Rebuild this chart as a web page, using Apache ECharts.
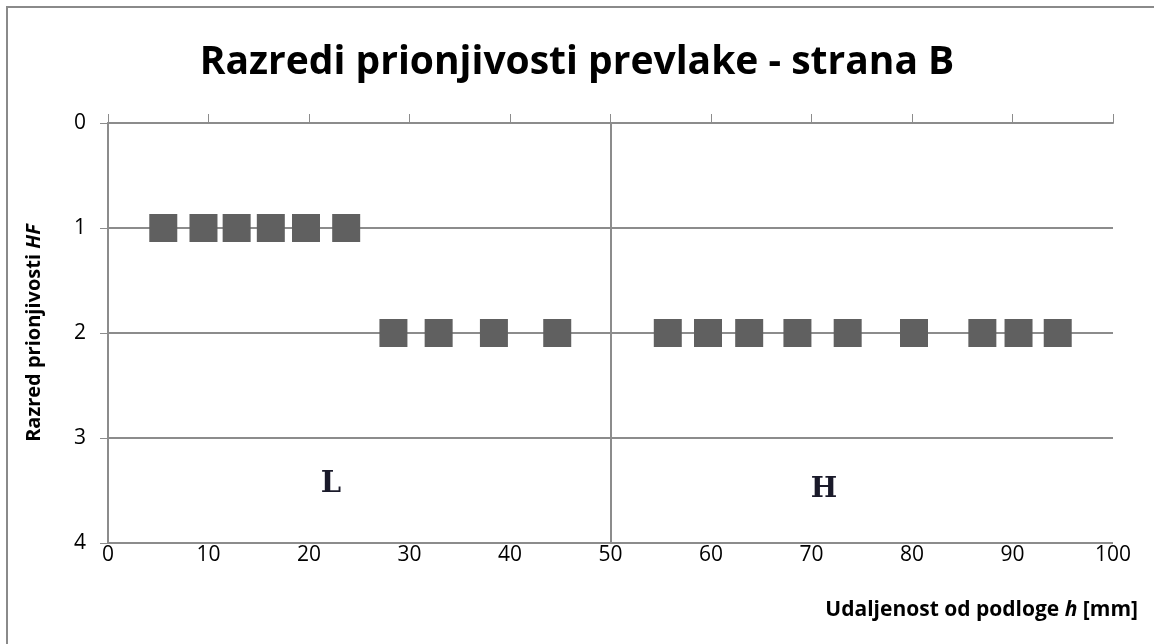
<!DOCTYPE html>
<html><head><meta charset="utf-8">
<script src="https://cdn.jsdelivr.net/npm/echarts@6/dist/echarts.min.js"></script>
<style>html,body{margin:0;padding:0;background:#fff}#c{width:1154px;height:644px}</style>
</head><body><div id="c"></div>
<script>
const titleText = 'Razredi prionjivosti prevlake - strana B';
const xTicks = [0,10,20,30,40,50,60,70,80,90,100];
const yTicks = [0,1,2,3,4];
const hValues = [5.5,9.5,12.8,16.2,19.7,23.7,28.4,32.9,38.4,44.7,55.7,59.7,63.8,68.6,73.6,80.2,87.0,90.6,94.5];
const hfValues = [1,1,1,1,1,1,2,2,2,2,2,2,2,2,2,2,2,2,2];
const zoneBoundary = 50;
const zoneLabels = ['L','H'];

const pts = hValues.map((v,i)=>[v,hfValues[i]]);
const font = '"Open Sans", sans-serif';
const grey = '#8c8c8c';
const chart = echarts.init(document.getElementById('c'));
chart.setOption({
  animation:false,
  backgroundColor:'#fff',
  title:{text:titleText,left:'center',top:38,textStyle:{fontFamily:font,fontWeight:'bold',fontSize:39,color:'#000'}},
  grid:{left:108,right:41,top:123,bottom:101},
  xAxis:[{
    type:'value',position:'top',min:xTicks[0],max:xTicks[xTicks.length-1],interval:10,
    axisLine:{show:true,lineStyle:{color:grey,width:2}},
    axisTick:{show:true,inside:false,length:9,lineStyle:{color:grey,width:1}},
    axisLabel:{show:false},splitLine:{show:false}
  },{
    type:'value',position:'bottom',min:xTicks[0],max:xTicks[xTicks.length-1],interval:10,
    axisLine:{show:false},axisTick:{show:false},splitLine:{show:false},
    axisLabel:{show:true,margin:2,fontFamily:font,fontSize:21,color:'#000'},
    name:'{b|Udaljenost od podloge }{i|h}{b| [mm]}',nameLocation:'end',nameGap:0,
    nameTextStyle:{align:'right',verticalAlign:'top',padding:[57,-25,0,0],
      rich:{b:{fontFamily:font,fontWeight:'bold',fontSize:21,color:'#000'},i:{fontFamily:font,fontWeight:'bold',fontStyle:'italic',fontSize:21,color:'#000'}}}
  }],
  yAxis:{
    type:'value',inverse:true,min:yTicks[0],max:yTicks[yTicks.length-1],interval:1,
    axisLine:{show:true,lineStyle:{color:grey,width:2}},
    axisTick:{show:true,inside:false,length:8,lineStyle:{color:grey,width:1}},
    axisLabel:{margin:22,fontFamily:font,fontSize:21,color:'#000'},
    splitLine:{show:true,lineStyle:{color:grey,width:2}},
    name:'{b|Razred prionjivosti }{i|HF}',nameLocation:'middle',nameGap:64,nameRotate:90,
    nameTextStyle:{rich:{b:{fontFamily:font,fontWeight:'bold',fontSize:20,color:'#000'},i:{fontFamily:font,fontWeight:'bold',fontStyle:'italic',fontSize:20,color:'#000'}}}
  },
  series:[{
    type:'scatter',xAxisIndex:0,data:pts,symbol:'rect',symbolSize:28,
    itemStyle:{color:'#606060',opacity:1,borderRadius:2},
    markLine:{silent:true,symbol:'none',label:{show:false},lineStyle:{color:grey,width:2,type:'solid'},data:[{xAxis:zoneBoundary}]}
  }],
  graphic:[
    {type:'rect',shape:{x:7,y:7,width:1300,height:800},style:{fill:'none',stroke:'#8a8a8a',lineWidth:2},z:-1},
    {type:'text',x:331,y:484,style:{text:zoneLabels[0],font:'bold 29px "DejaVu Serif", "Liberation Serif", serif',fill:'#1a1a2a',align:'center',verticalAlign:'middle'}},
    {type:'text',x:824,y:490,style:{text:zoneLabels[1],font:'bold 28px "DejaVu Serif", "Liberation Serif", serif',fill:'#1a1a2a',align:'center',verticalAlign:'middle'}}
  ]
});
</script></body></html>
